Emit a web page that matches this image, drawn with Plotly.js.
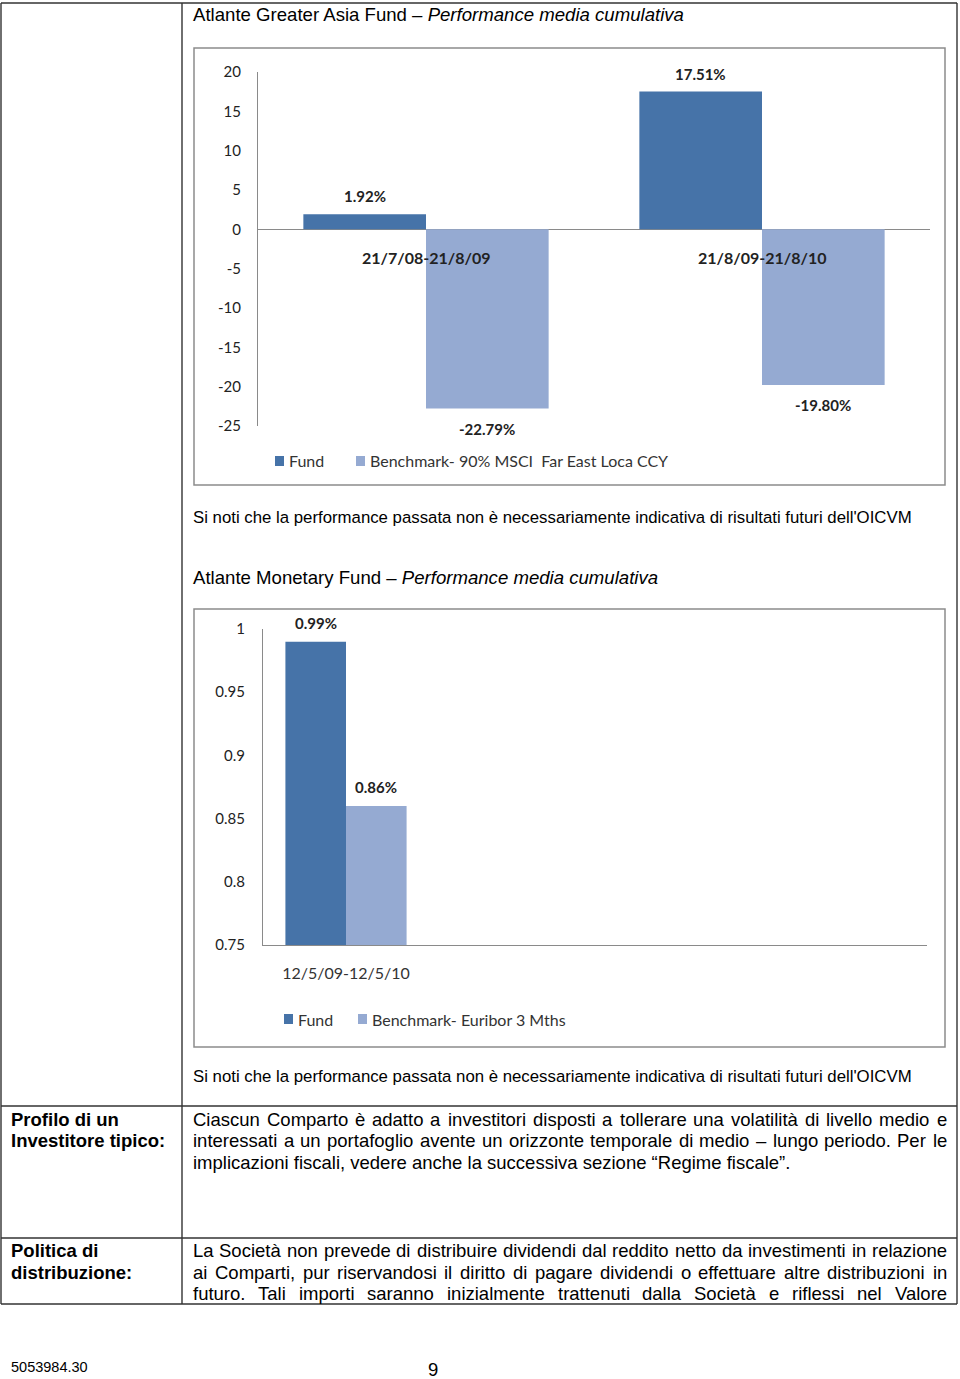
<!DOCTYPE html>
<html>
<head>
<meta charset="utf-8">
<script src="https://cdn.plot.ly/plotly-3.0.1.min.js"></script>
<style>
html,body{margin:0;padding:0;background:#fff;}
#page{width:960px;height:1379px;}
</style>
</head>
<body>
<div id="page"></div>
<script>
// ---------- DATA ----------
const asiaCategories = ["21/7/08-21/8/09", "21/8/09-21/8/10"];
const asiaFund = [1.92, 17.51];
const asiaBenchmark = [-22.79, -19.80];
const asiaFundName = "Fund";
const asiaBenchmarkName = "Benchmark- 90% MSCI  Far East Loca CCY";
const asiaTickVals = [-25, -20, -15, -10, -5, 0, 5, 10, 15, 20];
const asiaTickText = ["-25", "-20", "-15", "-10", "-5", "0", "5", "10", "15", "20"];

const monetaryCategories = ["12/5/09-12/5/10"];
const monetaryFund = [0.99];
const monetaryBenchmark = [0.86];
const monetaryFundName = "Fund";
const monetaryBenchmarkName = "Benchmark- Euribor 3 Mths";
const monetaryTickVals = [0.75, 0.8, 0.85, 0.9, 0.95, 1];
const monetaryTickText = ["0.75", "0.8", "0.85", "0.9", "0.95", "1"];

const asiaTitle = "Atlante Greater Asia Fund – <i>Performance media cumulativa</i>";
const monetaryTitle = "Atlante Monetary Fund – <i>Performance media cumulativa</i>";
const noteText = "Si noti che la performance passata non è necessariamente indicativa di risultati futuri dell'OICVM";
const profiloLabel = ["Profilo di un", "Investitore tipico:"];
const profiloText = [
  "Ciascun Comparto è adatto a investitori disposti a tollerare una volatilità di livello medio e",
  "interessati a un portafoglio avente un orizzonte temporale di medio – lungo periodo. Per le",
  "implicazioni fiscali, vedere anche la successiva sezione “Regime fiscale”."
];
const politicaLabel = ["Politica di", "distribuzione:"];
const politicaText = [
  "La Società non prevede di distribuire dividendi dal reddito netto da investimenti in relazione",
  "ai Comparti, pur riservandosi il diritto di pagare dividendi o effettuare altre distribuzioni in",
  "futuro. Tali importi saranno inizialmente trattenuti dalla Società e riflessi nel Valore"
];
const footerCode = "5053984.30";
const pageNumber = "9";

// ---------- STYLE ----------
const W = 960, H = 1379;
const X = p => p / W;
const Y = p => 1 - p / H;
const FUND_COLOR = "#4673A8";
const BENCH_COLOR = "#95AAD2";
const AXIS_COLOR = "#8a8a8a";
const CHART_FONT = "Lato, 'Open Sans', sans-serif";
const DOC_FONT = "'Liberation Sans', Arial, sans-serif";
const BODY_SIZE = 18.5;
const BARGAP = 0.27;
const fmtPct = v => v.toFixed(2) + "%";

const annotations = [];
const shapes = [];

function txt(x, y, text, size, opts) {
  annotations.push(Object.assign({
    xref: "paper", yref: "paper", x: X(x), y: Y(y), text: text,
    showarrow: false, xanchor: "left", yanchor: "middle", borderpad: 0,
    font: { family: DOC_FONT, size: size, color: "#000" }
  }, opts || {}));
}

// justified line via canvas measurement
const ctx = document.createElement("canvas").getContext("2d");
function justifyLine(line, x0, x1, yc, size) {
  const words = line.split(" ");
  ctx.font = size + "px 'Liberation Sans', Arial, sans-serif";
  const widths = words.map(w => ctx.measureText(w).width);
  const total = widths.reduce((a, b) => a + b, 0);
  const gap = (x1 - x0 - total) / (words.length - 1);
  let x = x0;
  words.forEach((w, i) => {
    txt(x, yc, w, size);
    x += widths[i] + gap;
  });
}

// ---------- PAGE TEXT ----------
txt(192, 15, asiaTitle, 18.6);
txt(192, 517, noteText, 16.8);
txt(192, 578, monetaryTitle, 18.6);
txt(192, 1076, noteText, 16.8);

txt(10, 1119, "<b>" + profiloLabel[0] + "</b>", BODY_SIZE);
txt(10, 1140, "<b>" + profiloLabel[1] + "</b>", BODY_SIZE);
justifyLine(profiloText[0], 192, 946, 1119, BODY_SIZE);
justifyLine(profiloText[1], 192, 946, 1140, BODY_SIZE);
txt(192, 1162, profiloText[2], BODY_SIZE);

txt(10, 1250, "<b>" + politicaLabel[0] + "</b>", BODY_SIZE);
txt(10, 1272, "<b>" + politicaLabel[1] + "</b>", BODY_SIZE);
justifyLine(politicaText[0], 192, 946, 1250, BODY_SIZE);
justifyLine(politicaText[1], 192, 946, 1272, BODY_SIZE);
justifyLine(politicaText[2], 192, 946, 1293, BODY_SIZE);

txt(10, 1367, footerCode, 14.5);
txt(433, 1369, pageNumber, 18.5, { xanchor: "center" });

// ---------- TABLE LINES ----------
function line(x0, y0, x1, y1, color, w) {
  shapes.push({ type: "line", xref: "paper", yref: "paper",
    x0: X(x0), y0: Y(y0), x1: X(x1), y1: Y(y1),
    line: { color: color, width: w } });
}
const TL = "#333333";
line(1, 3, 957, 3, TL, 1.4);
line(1, 1106, 957, 1106, TL, 1.4);
line(1, 1238, 957, 1238, TL, 1.4);
line(1, 1304, 957, 1304, TL, 1.4);
line(1, 3, 1, 1304, TL, 1.4);
line(182, 3, 182, 1304, TL, 1.4);
line(957, 3, 957, 1304, TL, 1.4);

// chart frames
function frame(x0, y0, x1, y1) {
  shapes.push({ type: "rect", xref: "paper", yref: "paper",
    x0: X(x0), y0: Y(y1), x1: X(x1), y1: Y(y0),
    line: { color: "#8c8c8c", width: 1.5 }, fillcolor: "rgba(0,0,0,0)" });
}
frame(194, 48, 945, 485);
frame(194, 609, 945, 1047);

// ---------- LEGENDS (manual) ----------
function legendItem(xs, yc, color, label) {
  shapes.push({ type: "rect", xref: "paper", yref: "paper",
    x0: X(xs), x1: X(xs + 9), y0: Y(yc + 5), y1: Y(yc - 5),
    line: { width: 0 }, fillcolor: color });
  annotations.push({ xref: "paper", yref: "paper", x: X(xs + 13), y: Y(yc),
    text: label, showarrow: false, xanchor: "left", yanchor: "middle", borderpad: 0,
    font: { family: CHART_FONT, size: 16, color: "#333" } });
}
legendItem(275, 461, FUND_COLOR, asiaFundName);
legendItem(356, 461, BENCH_COLOR, asiaBenchmarkName);
legendItem(284, 1019, FUND_COLOR, monetaryFundName);
legendItem(358, 1019, BENCH_COLOR, monetaryBenchmarkName);

// ---------- DATA LABELS ----------
const off = (1 - BARGAP) / 4;
asiaCategories.forEach((c, i) => {
  annotations.push({ xref: "x", yref: "y", x: i - off, y: asiaFund[i], yshift: 18,
    text: "<b>" + fmtPct(asiaFund[i]) + "</b>", showarrow: false,
    font: { family: CHART_FONT, size: 15, color: "#222" } });
  annotations.push({ xref: "x", yref: "y", x: i + off, y: asiaBenchmark[i], yshift: -20,
    text: "<b>" + fmtPct(asiaBenchmark[i]) + "</b>", showarrow: false,
    font: { family: CHART_FONT, size: 15, color: "#222" } });
  annotations.push({ xref: "x", yref: "y", x: i, y: 0, yshift: -28,
    text: "<b>" + c + "</b>", showarrow: false,
    font: { family: CHART_FONT, size: 16, color: "#222" } });
});
monetaryCategories.forEach((c, i) => {
  annotations.push({ xref: "x2", yref: "y2", x: i - off, y: monetaryFund[i], yshift: 19,
    text: "<b>" + fmtPct(monetaryFund[i]) + "</b>", showarrow: false,
    font: { family: CHART_FONT, size: 15, color: "#222" } });
  annotations.push({ xref: "x2", yref: "y2", x: i + off, y: monetaryBenchmark[i], yshift: 19,
    text: "<b>" + fmtPct(monetaryBenchmark[i]) + "</b>", showarrow: false,
    font: { family: CHART_FONT, size: 15, color: "#222" } });
});

// ---------- TRACES ----------
const traces = [
  { type: "bar", x: asiaCategories, y: asiaFund, name: asiaFundName,
    marker: { color: FUND_COLOR }, xaxis: "x", yaxis: "y", hoverinfo: "none" },
  { type: "bar", x: asiaCategories, y: asiaBenchmark, name: asiaBenchmarkName,
    marker: { color: BENCH_COLOR }, xaxis: "x", yaxis: "y", hoverinfo: "none" },
  { type: "bar", x: monetaryCategories, y: monetaryFund, name: monetaryFundName,
    marker: { color: FUND_COLOR }, xaxis: "x2", yaxis: "y2", hoverinfo: "none" },
  { type: "bar", x: monetaryCategories, y: monetaryBenchmark, name: monetaryBenchmarkName,
    marker: { color: BENCH_COLOR }, xaxis: "x2", yaxis: "y2", hoverinfo: "none" }
];

const tickFont = { family: CHART_FONT, size: 15, color: "#222" };
const layout = {
  width: W, height: H,
  margin: { l: 0, r: 0, t: 0, b: 0, pad: 0 },
  paper_bgcolor: "#fff", plot_bgcolor: "rgba(0,0,0,0)",
  showlegend: false,
  barmode: "group", bargap: BARGAP, bargroupgap: 0,
  xaxis: {
    domain: [X(258), X(930)], anchor: "y", type: "category",
    range: [-0.5, 1.5], showticklabels: false, showline: false,
    showgrid: false, zeroline: false, ticks: "", fixedrange: true
  },
  yaxis: {
    domain: [Y(426), Y(72)], anchor: "x", range: [-25, 20],
    tickmode: "array", tickvals: asiaTickVals, ticktext: asiaTickText,
    showline: true, linecolor: AXIS_COLOR, linewidth: 1,
    zeroline: true, zerolinecolor: AXIS_COLOR, zerolinewidth: 1,
    showgrid: false, ticks: "outside", ticklen: 13, tickcolor: "rgba(0,0,0,0)",
    tickfont: tickFont, fixedrange: true
  },
  xaxis2: {
    domain: [X(263), X(927)], anchor: "y2", type: "category",
    range: [-0.5, 3.5], showline: true, linecolor: AXIS_COLOR, linewidth: 1,
    showgrid: false, zeroline: false, ticks: "outside", ticklen: 14,
    tickcolor: "rgba(0,0,0,0)", tickfont: { family: CHART_FONT, size: 16, color: "#333" },
    fixedrange: true
  },
  yaxis2: {
    domain: [Y(945), Y(629)], anchor: "x2", range: [0.75, 1.0],
    tickmode: "array", tickvals: monetaryTickVals, ticktext: monetaryTickText,
    showline: true, linecolor: AXIS_COLOR, linewidth: 1,
    showgrid: false, zeroline: false, ticks: "outside", ticklen: 14,
    tickcolor: "rgba(0,0,0,0)", tickfont: tickFont, fixedrange: true
  },
  shapes: shapes,
  annotations: annotations
};

Plotly.newPlot("page", traces, layout, { staticPlot: true, displayModeBar: false });
</script>
</body>
</html>
